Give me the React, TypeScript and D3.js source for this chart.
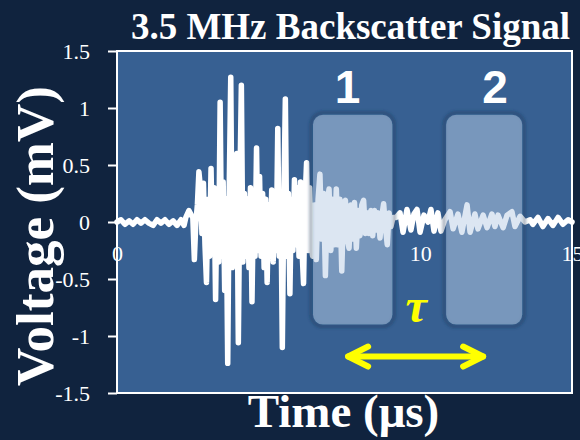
import * as d3 from 'd3'
import { useEffect, useRef } from 'react'

// backscatter trace as [time µs, amplitude mV]
const leadTrace: [number, number][] = [
  [0.0, 0.0], [0.13, 0.02], [0.26, -0.02], [0.4, 0.01], [0.53, -0.02],
  [0.66, 0.02], [0.79, -0.01], [0.92, 0.02], [1.05, -0.01], [1.19, -0.03],
  [1.32, 0.02], [1.45, -0.01], [1.58, 0.02], [1.71, -0.02], [1.85, 0.01],
  [1.98, -0.03], [2.11, 0.02], [2.21, -0.03], [2.27, 0.04], [2.37, 0.1],
  [2.45, 0.06],
]
const burstTrace: [number, number][] = [
  [2.5, 0.04], [2.55, -0.33], [2.6, 0.0], [2.65, 0.15], [2.7, 0.44],
  [2.75, 0.3], [2.8, -0.1], [2.85, 0.34], [2.9, -0.2], [2.95, -0.53],
  [3.0, 0.2], [3.05, -0.3], [3.1, 0.47], [3.15, -0.25], [3.2, 0.3],
  [3.25, -0.68], [3.3, 0.25], [3.35, -0.35], [3.4, 1.05], [3.45, -0.3],
  [3.5, 0.35], [3.55, -0.6], [3.6, 0.2], [3.65, -1.24], [3.7, 0.3],
  [3.75, 1.27], [3.8, -0.4], [3.85, 0.3], [3.9, -0.3], [3.95, 0.6],
  [4.0, -1.06], [4.05, 0.3], [4.1, 1.2], [4.15, -0.35], [4.2, 0.25],
  [4.25, -0.3], [4.3, 0.2], [4.35, -0.4], [4.4, 0.3], [4.45, -0.7],
  [4.5, 0.2], [4.55, -0.3], [4.6, 0.65], [4.65, -0.25], [4.7, 0.4],
  [4.75, -0.3], [4.8, 0.25], [4.85, -0.4], [4.9, 0.2], [4.95, -0.53],
  [5.0, 0.15], [5.05, -0.3], [5.1, 0.28], [5.15, -0.35], [5.2, 0.2],
  [5.25, -0.25], [5.3, 0.82], [5.35, -0.3], [5.4, 0.25], [5.45, -1.1],
  [5.5, 0.2], [5.55, 1.08], [5.6, -0.3], [5.65, 0.25], [5.7, -0.63],
  [5.75, 0.2], [5.8, -0.25], [5.85, 0.37], [5.9, -0.2], [5.95, 0.3],
  [6.0, -0.3], [6.05, 0.35], [6.1, -0.25], [6.15, -0.54], [6.2, 0.2],
  [6.25, 0.52], [6.3, -0.25], [6.35, 0.3], [6.4, -0.2],
]
const echoTrace: [number, number][] = [
  [6.45, -0.3], [6.51, 0.15], [6.57, -0.33], [6.63, 0.2], [6.69, 0.42],
  [6.75, -0.15], [6.81, 0.25], [6.87, -0.47], [6.93, 0.15], [6.99, 0.29],
  [7.05, -0.25], [7.11, 0.2], [7.17, -0.2], [7.23, 0.29], [7.29, -0.2],
  [7.35, 0.2], [7.41, -0.43], [7.47, 0.15], [7.53, 0.19], [7.59, -0.15],
  [7.65, -0.23], [7.71, 0.15], [7.77, -0.15], [7.83, 0.17], [7.89, -0.23],
  [7.95, 0.1], [8.01, -0.12], [8.07, 0.15], [8.13, 0.19], [8.19, -0.1],
  [8.25, 0.08], [8.31, -0.1], [8.37, 0.1], [8.43, -0.12], [8.49, 0.1],
  [8.55, -0.07], [8.61, 0.08], [8.67, -0.14], [8.73, 0.05], [8.79, 0.16],
  [8.85, -0.05], [8.91, -0.2], [8.97, 0.08], [9.03, -0.04], [9.1, 0.04],
]
const tailTrace: [number, number][] = [
  [9.2, 0.04], [9.33, 0.08], [9.43, -0.09], [9.56, 0.11], [9.69, -0.07],
  [9.79, 0.07], [9.89, 0.11], [9.99, -0.09], [10.12, 0.06], [10.25, 0.0],
  [10.35, 0.11], [10.45, -0.08], [10.58, 0.08], [10.68, -0.08], [10.81, 0.02],
  [10.98, 0.09], [11.08, -0.06], [11.24, 0.07], [11.37, -0.09], [11.54, 0.15],
  [11.64, -0.09], [11.8, 0.07], [11.9, -0.06], [12.07, 0.06], [12.2, -0.05],
  [12.36, 0.07], [12.46, -0.04], [12.56, 0.06], [12.73, -0.05], [12.86, 0.06],
  [13.02, 0.09], [13.12, -0.04], [13.29, 0.05], [13.45, 0.0], [13.62, 0.02],
  [13.71, -0.02], [13.88, 0.04], [14.04, -0.04], [14.21, 0.03], [14.37, -0.03],
  [14.54, 0.04], [14.7, -0.02], [14.87, 0.02], [15.0, 0.0],
]

const voltTicks = [1.5, 1, 0.5, 0, -0.5, -1, -1.5]
const timeTicks = [0, 5, 10, 15]

// the two echo windows compared for the decay
const gateLabels = ['1', '2']
const gateStartUs = [6.46, 10.85]
const gateEndUs = [9.08, 13.36]

const width = 580
const height = 440
const margin = { top: 51, right: 8, bottom: 47, left: 117 }
const serif = "'Liberation Serif', 'Times New Roman', serif"
const sans = "'Liberation Sans', Arial, sans-serif"

export default function App() {
  const axisBottomRef = useRef<SVGGElement>(null)
  const axisLeftRef = useRef<SVGGElement>(null)

  const innerW = width - margin.left - margin.right
  const innerH = height - margin.top - margin.bottom

  const scaleX = d3.scaleLinear().domain([0, 15]).range([0, innerW])
  const scaleY = d3.scaleLinear().domain([-1.5, 1.5]).range([innerH, 0])

  const points = [...leadTrace, ...burstTrace, ...echoTrace, ...tailTrace]
  const line = d3
    .line<[number, number]>()
    .x((d) => scaleX(d[0]))
    .y((d) => scaleY(d[1]))

  useEffect(() => {
    if (axisLeftRef.current) {
      const g = d3.select(axisLeftRef.current)
      g.call(
        d3
          .axisLeft(scaleY)
          .tickValues(voltTicks)
          .tickFormat((d) => String(d))
          .tickSize(9)
          .tickPadding(18),
      )
      g.select('.domain').remove()
      g.attr('font-size', 22).attr('font-family', serif)
      g.selectAll('line').attr('stroke', '#fff').attr('stroke-width', 2)
      g.selectAll('text').attr('fill', '#fff')
    }
    if (axisBottomRef.current) {
      const g = d3.select(axisBottomRef.current)
      g.call(
        d3
          .axisBottom(scaleX)
          .tickValues(timeTicks)
          .tickFormat((d) => String(d))
          .tickSize(0)
          .tickPadding(23),
      )
      g.select('.domain').remove()
      g.attr('font-size', 22).attr('font-family', serif)
      g.selectAll('text').attr('fill', '#fff')
    }
  }, [scaleX, scaleY])

  const boxTop = scaleY(0.94)
  const boxBottom = scaleY(-0.9)
  const arrowY = scaleY(-1.18)
  const arrowL = scaleX(7.62)
  const arrowR = scaleX(12.07)

  return (
    <svg
      width={width}
      height={height}
      style={{ position: 'absolute', left: 0, top: 0, background: '#10233e' }}
    >
      <defs>
        <filter id="soft" x="-20%" y="-20%" width="140%" height="140%">
          <feGaussianBlur stdDeviation="1.5" />
        </filter>
      </defs>
      <rect width={width} height={height} fill="#10233e" />
      <text
        x={350.5}
        y={39}
        textAnchor="middle"
        fill="#fff"
        fontFamily={serif}
        fontWeight="bold"
        fontSize={37}
      >
        3.5 MHz Backscatter Signal
      </text>
      <text
        transform="rotate(-90)"
        x={-236}
        y={53}
        textAnchor="middle"
        fill="#fff"
        fontFamily={serif}
        fontWeight="bold"
        fontSize={53}
      >
        Voltage (mV)
      </text>
      <text
        x={343.5}
        y={427}
        textAnchor="middle"
        fill="#fff"
        fontFamily={serif}
        fontWeight="bold"
        fontSize={47}
      >
        Time (μs)
      </text>
      <g transform={`translate(${margin.left}, ${margin.top})`}>
        <rect width={innerW} height={innerH} fill="#376092" />
        <g ref={axisBottomRef} transform={`translate(0, ${scaleY(0)})`} />
        <path
          d={line(points) || ''}
          fill="none"
          stroke="#fff"
          strokeWidth={5.5}
          strokeLinejoin="round"
          strokeLinecap="round"
        />
        {gateLabels.map((label, i) => {
          const x0 = scaleX(gateStartUs[i])
          const x1 = scaleX(gateEndUs[i])
          return (
            <g key={`gate-${label}`}>
              <rect
                x={x0 - 2}
                y={boxTop - 2}
                width={x1 - x0 + 4}
                height={boxBottom - boxTop + 4}
                rx={12}
                fill="none"
                stroke="#1c3557"
                strokeOpacity={0.45}
                strokeWidth={3}
                filter="url(#soft)"
              />
              <rect
                x={x0}
                y={boxTop}
                width={x1 - x0}
                height={boxBottom - boxTop}
                rx={10}
                fill="#b9cde5"
                fillOpacity={0.5}
              />
            </g>
          )
        })}
        <text
          x={scaleX(7.6)}
          y={scaleY(1.04)}
          textAnchor="middle"
          fill="#fff"
          fontFamily={sans}
          fontWeight="bold"
          fontSize={46}
        >
          1
        </text>
        <text
          x={scaleX(12.46)}
          y={scaleY(1.04)}
          textAnchor="middle"
          fill="#fff"
          fontFamily={sans}
          fontWeight="bold"
          fontSize={46}
        >
          2
        </text>
        <text
          x={scaleX(9.86)}
          y={scaleY(-0.88)}
          textAnchor="middle"
          fill="#ffff00"
          fontFamily={serif}
          fontWeight="bold"
          fontStyle="italic"
          fontSize={48}
        >
          τ
        </text>
        <g
          stroke="#ffff00"
          strokeWidth={6}
          strokeLinecap="round"
          strokeLinejoin="round"
          fill="none"
        >
          <line x1={arrowL} x2={arrowR} y1={arrowY} y2={arrowY} />
          <polyline
            points={`${arrowL + 20},${arrowY - 10} ${arrowL},${arrowY} ${arrowL + 20},${arrowY + 10}`}
          />
          <polyline
            points={`${arrowR - 20},${arrowY - 10} ${arrowR},${arrowY} ${arrowR - 20},${arrowY + 10}`}
          />
        </g>
        <rect
          width={innerW}
          height={innerH}
          fill="none"
          stroke="#fff"
          strokeWidth={2}
        />
        <g ref={axisLeftRef} />
      </g>
    </svg>
  )
}
